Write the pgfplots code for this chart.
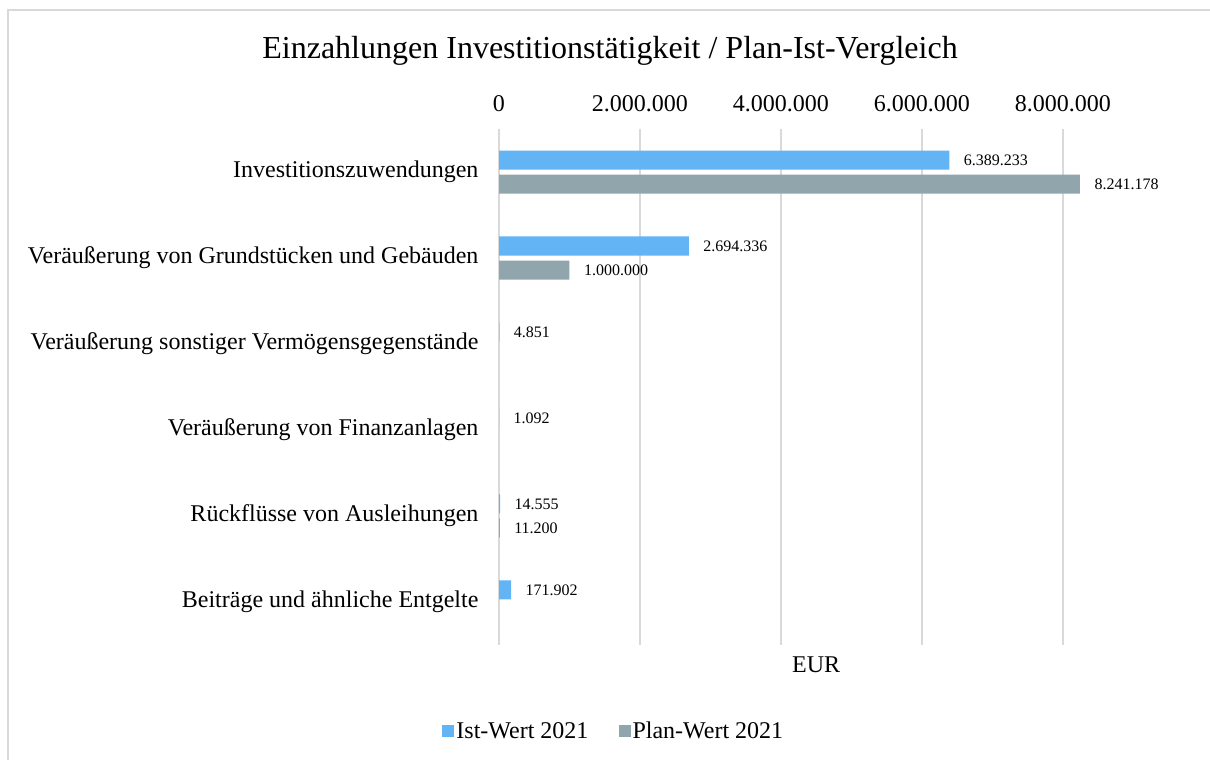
\documentclass[border=0pt]{standalone}
\usepackage{pgfplots}
\pgfplotsset{compat=1.18}
\usepackage{fontspec}
\setmainfont{Liberation Serif}
\definecolor{istblue}{RGB}{99,180,245}
\definecolor{plangray}{RGB}{145,165,173}
\definecolor{gridgray}{RGB}{217,217,217}
\begin{document}
\begin{tikzpicture}
\path[use as bounding box] (0,0) rectangle (1210pt,760pt);
\draw[gridgray, line width=1.5pt] (8pt,0) -- (8pt,750pt) -- (1210pt,750pt);
\node[font=\fontsize{32}{38}\selectfont] at (610pt,709pt) {Einzahlungen Investitionstätigkeit / Plan-Ist-Vergleich};
\begin{axis}[
  at={(499pt,115pt)}, anchor=south west,
  scale only axis, width=634.5pt, height=516pt,
  xbar, bar width=19pt,
  xmin=0, xmax=9000000, ymin=-0.5, ymax=5.5,
  xtick={0,2000000,4000000,6000000,8000000},
  xticklabels={0,2.000.000,4.000.000,6.000.000,8.000.000},
  xticklabel pos=upper,
  scaled x ticks=false,
  ytick={0,...,5},
  yticklabels={Beiträge und ähnliche Entgelte, Rückflüsse von Ausleihungen, Veräußerung von Finanzanlagen, Veräußerung sonstiger Vermögensgegenstände, Veräußerung von Grundstücken und Gebäuden, Investitionszuwendungen},
  ticklabel style={font=\fontsize{24}{28}\selectfont},
  yticklabel style={xshift=-17pt},
  xticklabel style={yshift=14pt},
  axis line style={draw=none}, major tick length=0pt,
  xmajorgrids, grid style={gridgray, line width=2pt},
  clip=false,
  nodes near coords, point meta=explicit symbolic,
  every node near coord/.append style={font=\fontsize{16}{19}\selectfont, anchor=west, xshift=11pt, text=black},
  legend style={at={(0.181,-0.1667)}, anchor=center, legend columns=2, draw=none, font=\fontsize{24}{28}\selectfont, /tikz/every even column/.append style={column sep=28pt}},
  legend image code/.code={\fill[#1] (0pt,-6pt) rectangle (12pt,6pt);},
]
\addplot[fill=istblue, draw=none, bar shift=12pt] table[x=x, y=y, meta=l] {
x y l
6389233 5 6.389.233
2694336 4 2.694.336
4851 3 4.851
1092 2 1.092
14555 1 14.555
171902 0 171.902
};
\addlegendentry{Ist-Wert 2021}
\addplot[fill=plangray, draw=none, bar shift=-12pt] table[x=x, y=y, meta=l] {
x y l
8241178 5 8.241.178
1000000 4 1.000.000
11200 1 11.200
};
\addlegendentry{Plan-Wert 2021}
\node[font=\fontsize{24}{28}\selectfont] at (axis description cs:0.5,-0.039) {EUR};
\end{axis}
\end{tikzpicture}
\end{document}
